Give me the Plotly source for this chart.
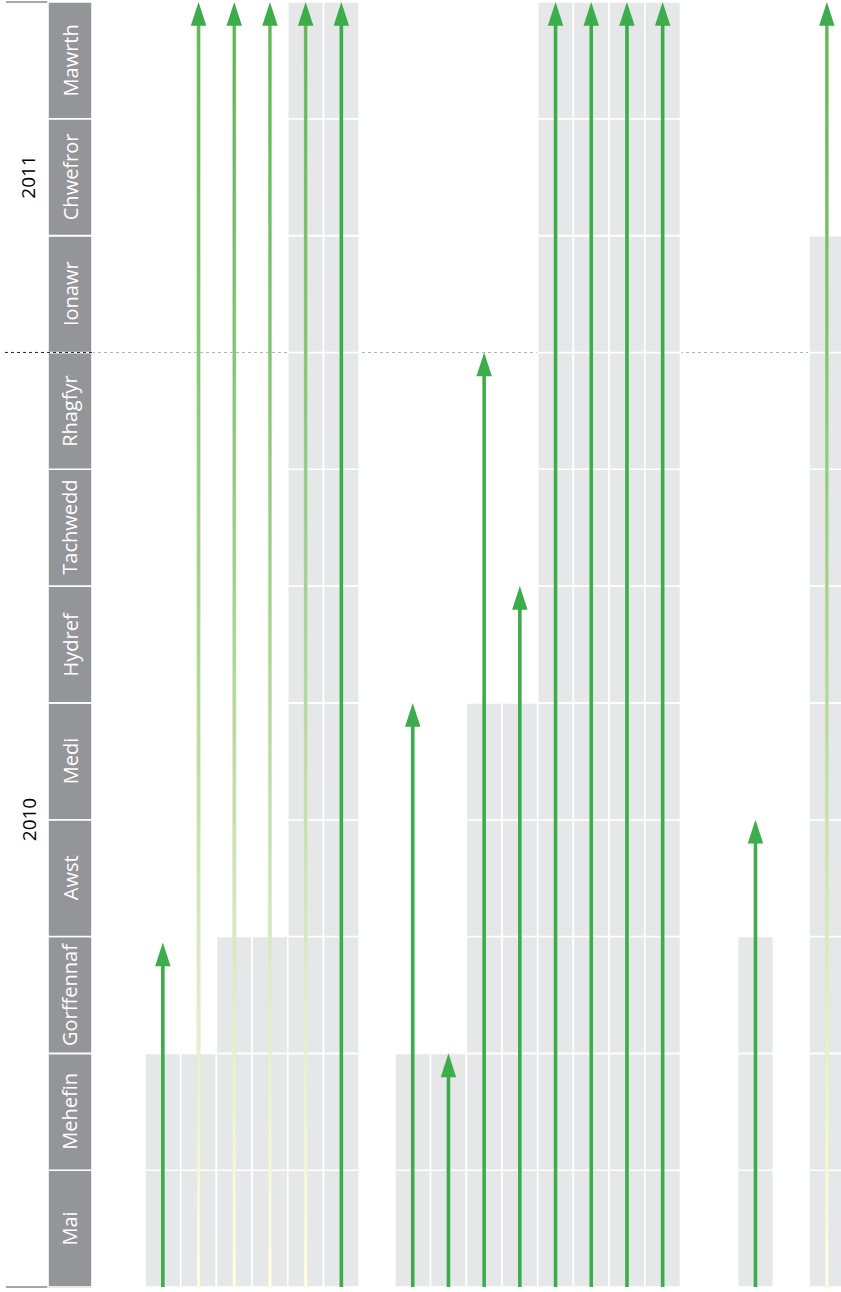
import plotly.graph_objects as go

# ---------------- data ----------------
months = ["Mai", "Mehefin", "Gorffennaf", "Awst", "Medi", "Hydref",
          "Tachwedd", "Rhagfyr", "Ionawr", "Chwefror", "Mawrth"]
years = ["2010", "2011"]
year_start = [0, 8]      # month index where each year begins
year_end = [8, 11]

# column slot index (left edge) for each tracked item
column_slot = [0, 1, 2, 3, 4, 5, 7, 8, 9, 10, 11, 12, 13, 14, 16.6, 18.6]
# grey bar extent (months from May 2010)
grey_months = [2, 2, 3, 3, 11, 11, 2, 2, 5, 5, 11, 11, 11, 11, 3, 9]
# arrow tip (months from May 2010)
arrow_months = [2.95, 11, 11, 11, 11, 11, 5, 2, 8, 6, 11, 11, 11, 11, 4, 11]
# faded (gradient) arrows
arrow_faded = [False, True, True, True, True, False, False, False, False,
               False, False, False, False, False, False, True]

# ---------------- styling ----------------
W, H = 841, 1292
SLOT_PX = 35.7
X0_PX = 145
MONTH_PX = (1287 - 2) / 11
GREEN = "#3dac4a"
GREY_CELL = "#e6e7e8"
LABEL_BG = "#939598"
FONT = "Open Sans"

def px_to_x(px):
    return (px - X0_PX) / SLOT_PX

xr = [px_to_x(0), px_to_x(W)]
yr = [-(H - 1287) / MONTH_PX, 11 + 2 / MONTH_PX]

fig = go.Figure()

# grey cells, one segment per month
n_months = len(months)
for m in range(n_months):
    xs = [s + 0.5 for s, g in zip(column_slot, grey_months) if g > m]
    if not xs:
        continue
    fig.add_trace(go.Bar(
        x=xs, y=[1] * len(xs), base=[m] * len(xs), width=1,
        marker=dict(color=GREY_CELL, line=dict(color="white", width=1.6)),
        hoverinfo="skip", showlegend=False))

# month label boxes
lab_x = px_to_x(70)
lab_w = 44 / SLOT_PX
fig.add_trace(go.Bar(
    x=[lab_x] * n_months, y=[1] * n_months, base=list(range(n_months)),
    width=lab_w,
    marker=dict(color=LABEL_BG, line=dict(color="white", width=1.6)),
    hoverinfo="skip", showlegend=False))
for m, name in enumerate(months):
    fig.add_annotation(x=lab_x, y=m + 0.5, text=name, showarrow=False,
                       textangle=-90, font=dict(family=FONT, size=20, color="white"),
                       xref="x", yref="y")

# year labels
for yname, s, e in zip(years, year_start, year_end):
    fig.add_annotation(x=px_to_x(28.5), y=(s + e) / 2, text=yname, showarrow=False,
                       textangle=-90, font=dict(family=FONT, size=19, color="black"),
                       xref="x", yref="y")

# arrows
half_w = 1.8 / SLOT_PX
back = 12 / MONTH_PX
for s, tip, faded in zip(column_slot, arrow_months, arrow_faded):
    cx = s + 0.5
    top = tip - back
    if faded:
        fig.add_trace(go.Scatter(
            x=[cx - half_w, cx + half_w, cx + half_w, cx - half_w, cx - half_w],
            y=[0, 0, top, top, 0], mode="lines", fill="toself",
            line=dict(width=0.6, color="rgba(245,232,160,0.6)"),
            fillgradient=dict(type="vertical", colorscale=[
                [0, "#fffdf0"], [0.2, "#e3efd6"], [0.5, "#a9d59f"],
                [0.75, "#7cc37a"], [1, "#5ab65d"]]),
            hoverinfo="skip", showlegend=False))
    else:
        fig.add_trace(go.Scatter(
            x=[cx, cx], y=[0, top], mode="lines",
            line=dict(color=GREEN, width=3.6),
            hoverinfo="skip", showlegend=False))
    fig.add_trace(go.Scatter(
        x=[cx], y=[tip], mode="markers",
        marker=dict(symbol="arrow", size=25, color=GREEN, line=dict(width=0)),
        hoverinfo="skip", showlegend=False))

# frame lines
fig.add_shape(type="line", xref="x", yref="y", x0=px_to_x(6), x1=px_to_x(92),
              y0=0, y1=0, line=dict(color="#8a8a8a", width=1.5), layer="below")
fig.add_shape(type="line", xref="x", yref="y", x0=px_to_x(6), x1=px_to_x(48),
              y0=11, y1=11, line=dict(color="#8a8a8a", width=1.5), layer="below")
# year divider (dotted)
fig.add_shape(type="line", xref="x", yref="y", x0=px_to_x(92), x1=xr[1],
              y0=year_start[1], y1=year_start[1],
              line=dict(color="#b0b0b0", width=1, dash="dot"), layer="below")
fig.add_shape(type="line", xref="x", yref="y", x0=px_to_x(5), x1=px_to_x(93),
              y0=year_start[1], y1=year_start[1],
              line=dict(color="#222222", width=1, dash="dot"), layer="above")

fig.update_layout(
    width=W, height=H, margin=dict(l=0, r=0, t=0, b=0),
    paper_bgcolor="white", plot_bgcolor="white",
    barmode="overlay", showlegend=False,
    xaxis=dict(range=xr, visible=False, fixedrange=True),
    yaxis=dict(range=yr, visible=False, fixedrange=True),
)

fig.write_html("out.html",
               config={"displayModeBar": False, "staticPlot": True},
               post_script="document.body.style.margin='0px';"
                           "document.body.style.overflow='hidden';")
